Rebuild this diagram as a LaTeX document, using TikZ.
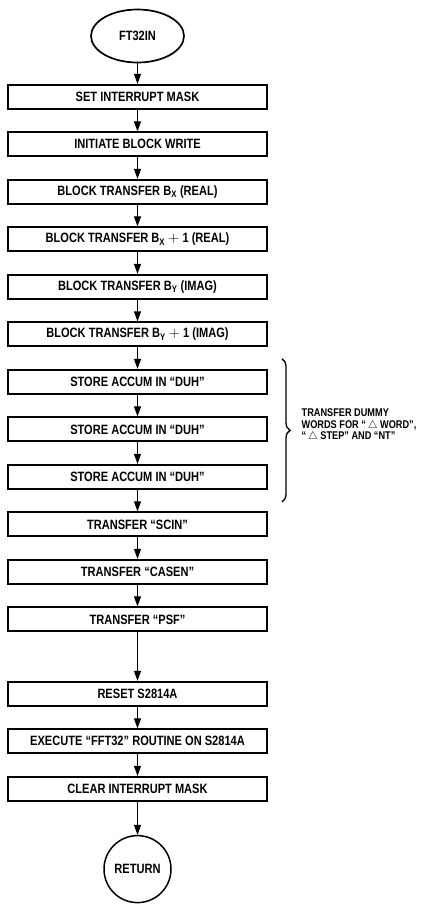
\documentclass[tikz,border=0pt]{standalone}
\usepackage{fontspec}
\setmainfont[FakeStretch=0.82]{Liberation Sans}
\usetikzlibrary{arrows.meta, positioning, shapes.geometric, decorations.pathreplacing}

\begin{document}
\begin{tikzpicture}[
    x=1pt, y=1pt,
    node distance=21.5pt,
    stepbox/.style={rectangle, draw, line width=2pt, minimum width=259pt, minimum height=24pt, inner sep=0pt, align=center, font=\fontsize{13.5}{15}\selectfont\bfseries},
    term/.style={draw, line width=1.7pt, inner sep=0pt, align=center, font=\fontsize{13.5}{15}\selectfont\bfseries},
    note/.style={align=left, inner sep=0pt, font=\fontsize{11.2}{11.6}\selectfont\bfseries},
    arrow/.style={-{Triangle[length=10pt, width=7pt]}, line width=1.1pt}
]

\useasboundingbox (0,0) rectangle (440,-905);

% Start
\node[term, ellipse, minimum width=93pt, minimum height=53pt] (start) at (137.5,-36) {FT32IN};

% Steps
\node[stepbox, below=20.5pt of start] (mask) {SET INTERRUPT MASK};
\node[stepbox, below=of mask] (init) {INITIATE BLOCK WRITE};
\node[stepbox, below=of init] (bx) {BLOCK TRANSFER B\textsubscript{X} (REAL)};
\node[stepbox, below=of bx] (bxone) {BLOCK TRANSFER B\textsubscript{X}${}+{}$1 (REAL)};
\node[stepbox, below=of bxone] (by) {BLOCK TRANSFER B\textsubscript{Y} (IMAG)};
\node[stepbox, below=of by] (byone) {BLOCK TRANSFER B\textsubscript{Y}${}+{}$1 (IMAG)};

% Dummy words
\node[stepbox, below=of byone] (duha) {STORE ACCUM IN ``DUH''};
\node[stepbox, below=of duha] (duhb) {STORE ACCUM IN ``DUH''};
\node[stepbox, below=of duhb] (duhc) {STORE ACCUM IN ``DUH''};

\node[stepbox, below=of duhc] (scin) {TRANSFER ``SCIN''};
\node[stepbox, below=of scin] (casen) {TRANSFER ``CASEN''};
\node[stepbox, below=of casen] (psf) {TRANSFER ``PSF''};

\node[stepbox, below=48.5pt of psf] (reset) {RESET S2814A};
\node[stepbox, below=of reset] (exec) {EXECUTE ``FFT32'' ROUTINE ON S2814A};
\node[stepbox, below=of exec] (clear) {CLEAR INTERRUPT MASK};

% End
\node[term, circle, line width=1.5pt, minimum size=67pt, below=33pt of clear] (ret) {RETURN};

% Arrows
\draw[arrow] (start) -- (mask);
\draw[arrow] (mask) -- (init);
\draw[arrow] (init) -- (bx);
\draw[arrow] (bx) -- (bxone);
\draw[arrow] (bxone) -- (by);
\draw[arrow] (by) -- (byone);
\draw[arrow] (byone) -- (duha);
\draw[arrow] (duha) -- (duhb);
\draw[arrow] (duhb) -- (duhc);
\draw[arrow] (duhc) -- (scin);
\draw[arrow] (scin) -- (casen);
\draw[arrow] (casen) -- (psf);
\draw[arrow] (psf) -- (reset);
\draw[arrow] (reset) -- (exec);
\draw[arrow] (exec) -- (clear);
\draw[arrow] (clear) -- (ret);

% Brace with note
\draw[decorate, decoration={brace, amplitude=8pt}, line width=1.3pt]
    ([xshift=14pt, yshift=10pt]duha.north east) -- ([xshift=14pt, yshift=-12pt]duhc.south east)
    node[note, midway, anchor=west, xshift=19pt, yshift=5pt] (dummy)
    {TRANSFER DUMMY\\WORDS FOR ``\,$\triangle$ WORD'',\\``\,$\triangle$ STEP'' AND ``NT''};

\end{tikzpicture}
\end{document}
